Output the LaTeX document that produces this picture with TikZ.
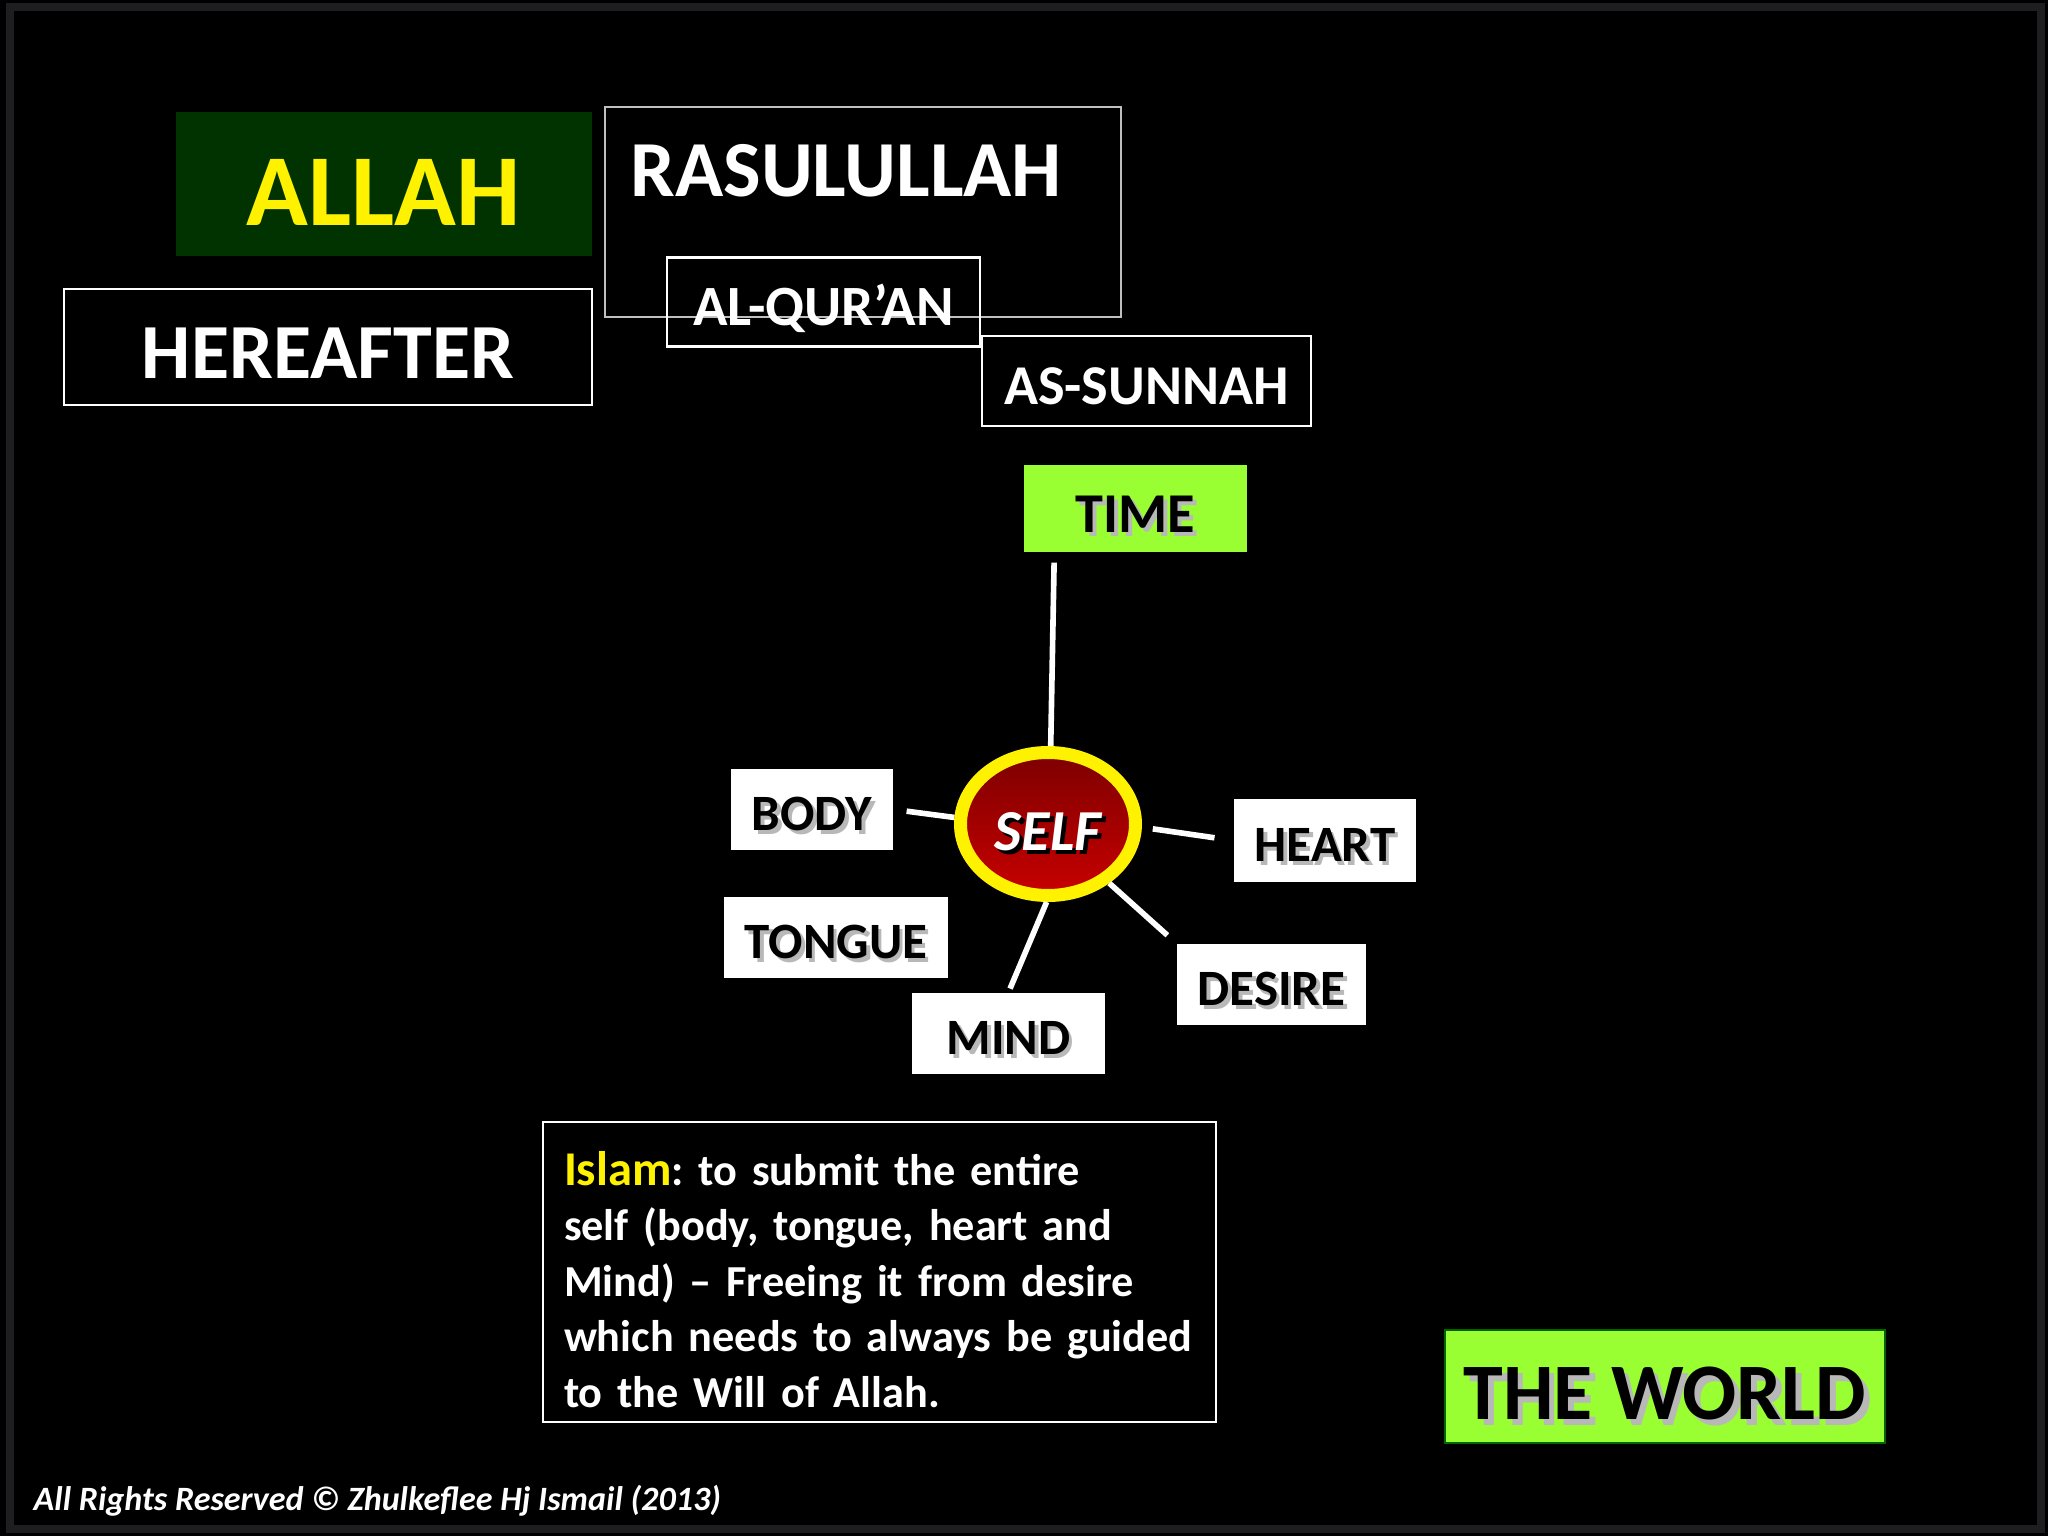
\documentclass[tikz,border=0pt]{standalone}
\usepackage{fontspec}
\setmainfont{Carlito}
\usetikzlibrary{shapes.geometric}
\frenchspacing

\definecolor{leafgreen}{RGB}{153,255,51}
\definecolor{nightgreen}{RGB}{0,51,0}
\definecolor{wine}{RGB}{125,0,0}
\definecolor{blood}{RGB}{200,0,0}
\definecolor{rim}{RGB}{30,29,31}

% text with a small drop shadow
\newcommand{\shadowtxt}[2][black!28]{%
  \makebox[0pt][l]{\hspace{0.07em}\raisebox{-0.07em}{\color{#1}#2}}#2}

\begin{document}
\begin{tikzpicture}[
    caps/.style={text height=#1,text depth=0pt},
    outline/.style={draw=white,line width=0.6pt,text=white,inner sep=0pt,
      font=\bfseries},
    part/.style={fill=white,inner sep=0pt,minimum height=0.81cm,caps=12.2pt,
      font=\fontsize{14.5}{17}\selectfont\bfseries},
    leaf/.style={fill=leafgreen,inner sep=0pt,font=\bfseries},
    spoke/.style={draw=white,line width=1.6pt}]

  \useasboundingbox (0,0) rectangle (20.48,-15.36);
  \fill[black] (0,0) rectangle (20.48,-15.36);
  \draw[rim,line width=2pt] (0.1,-0.07) rectangle (20.41,-15.29);

  % top row
  \node[fill=nightgreen,inner sep=0pt,minimum width=4.16cm,minimum height=1.44cm,
    caps=23.5pt,text=yellow,font=\fontsize{29}{34}\selectfont\bfseries]
    (allah) at (3.84,-1.84) {ALLAH};
  \node[draw=white!75!black,line width=0.45pt,minimum width=5.16cm,
    minimum height=2.10cm] (rasul) at (8.63,-2.12) {};
  \node[anchor=west,inner sep=0pt,text=white,
    font=\fontsize{22.6}{27}\selectfont\bfseries]
    (rasultext) at (6.30,-1.71) {RASULULLAH};
  \node[outline,minimum width=5.28cm,minimum height=1.16cm,caps=17.7pt,
    font=\fontsize{22.2}{27}\selectfont\bfseries]
    (hereafter) at (3.28,-3.47) {HEREAFTER};
  \node[outline,minimum width=3.13cm,minimum height=0.89cm,caps=13.2pt,
    font=\fontsize{16.2}{19}\selectfont\bfseries]
    (quran) at (8.235,-3.02) {AL-QUR’AN};
  \node[outline,minimum width=3.29cm,minimum height=0.90cm,caps=13.2pt,
    font=\fontsize{16}{19}\selectfont\bfseries]
    (sunnah) at (11.465,-3.81) {AS-SUNNAH};

  % the self and its parts
  \node[leaf,minimum width=2.23cm,minimum height=0.87cm,caps=13.8pt,
    font=\fontsize{16}{19}\selectfont\bfseries]
    (time) at (11.355,-5.085) {\shadowtxt{TIME}};
  \node[ellipse,draw=yellow,line width=0.13cm,top color=wine,bottom color=blood,
    minimum width=1.75cm,minimum height=1.43cm,inner sep=0pt,text=white,
    caps=14.8pt,font=\fontsize{16.5}{19}\selectfont\bfseries\itshape]
    (self) at (10.48,-8.24) {\shadowtxt[black]{SELF}};
  \node[part,minimum width=1.62cm] (body) at (8.12,-8.095) {\shadowtxt{BODY}};
  \node[part,minimum width=1.82cm,minimum height=0.83cm]
    (heart) at (13.25,-8.405) {\shadowtxt{HEART}};
  \node[part,minimum width=2.24cm] (tongue) at (8.36,-9.37) {\shadowtxt{TONGUE}};
  \node[part,minimum width=1.93cm] (mind) at (10.085,-10.335) {\shadowtxt{MIND}};
  \node[part,minimum width=1.89cm] (desire) at (12.715,-9.845) {\shadowtxt{DESIRE}};

  \draw[spoke,shorten >=0.1cm] (self.88) -- ([xshift=3.1mm]time.south west);
  \draw[spoke,shorten >=0.13cm] (self.176) -- (body.east);
  \draw[spoke,shorten <=0.11cm,shorten >=0.19cm] (self.-2) -- (heart.west);
  \draw[spoke,shorten >=0.12cm] (self.-44) -- (desire.north west);
  \draw[spoke,shorten >=0.04cm] (self.-91) -- (mind.north);

  % bottom
  \node[draw=white,line width=0.6pt,text=white,text width=6.31cm,
    minimum height=3.00cm,inner xsep=0.21cm,inner ysep=0pt,align=left,
    font=\fontsize{12.6}{15.8}\selectfont\bfseries]
    (islam) at (8.795,-12.72)
    {\mbox{\rule{0pt}{14pt}{\fontsize{13.8}{15.8}\selectfont\textcolor{yellow}{Islam}}: to submit the entire}\\
     \mbox{self (body, tongue, heart and}\\
     \mbox{Mind) -- Freeing it from desire}\\
     \mbox{which needs to always be guided}\\
     \mbox{to the Will of Allah.}};
  \node[leaf,draw=green!40!black,line width=0.6pt,minimum width=4.40cm,
    minimum height=1.13cm,caps=18.8pt,font=\fontsize{22.8}{27}\selectfont\bfseries]
    (world) at (16.65,-13.865) {\shadowtxt{THE WORLD}};
  \node[anchor=west,inner sep=0pt,text=white,
    font=\fontsize{9.7}{11}\selectfont\bfseries\itshape]
    (rights) at (0.33,-15.01)
    {All Rights Reserved \textcopyright{} Zhulkeflee Hj Ismail (2013)};
\end{tikzpicture}
\end{document}
